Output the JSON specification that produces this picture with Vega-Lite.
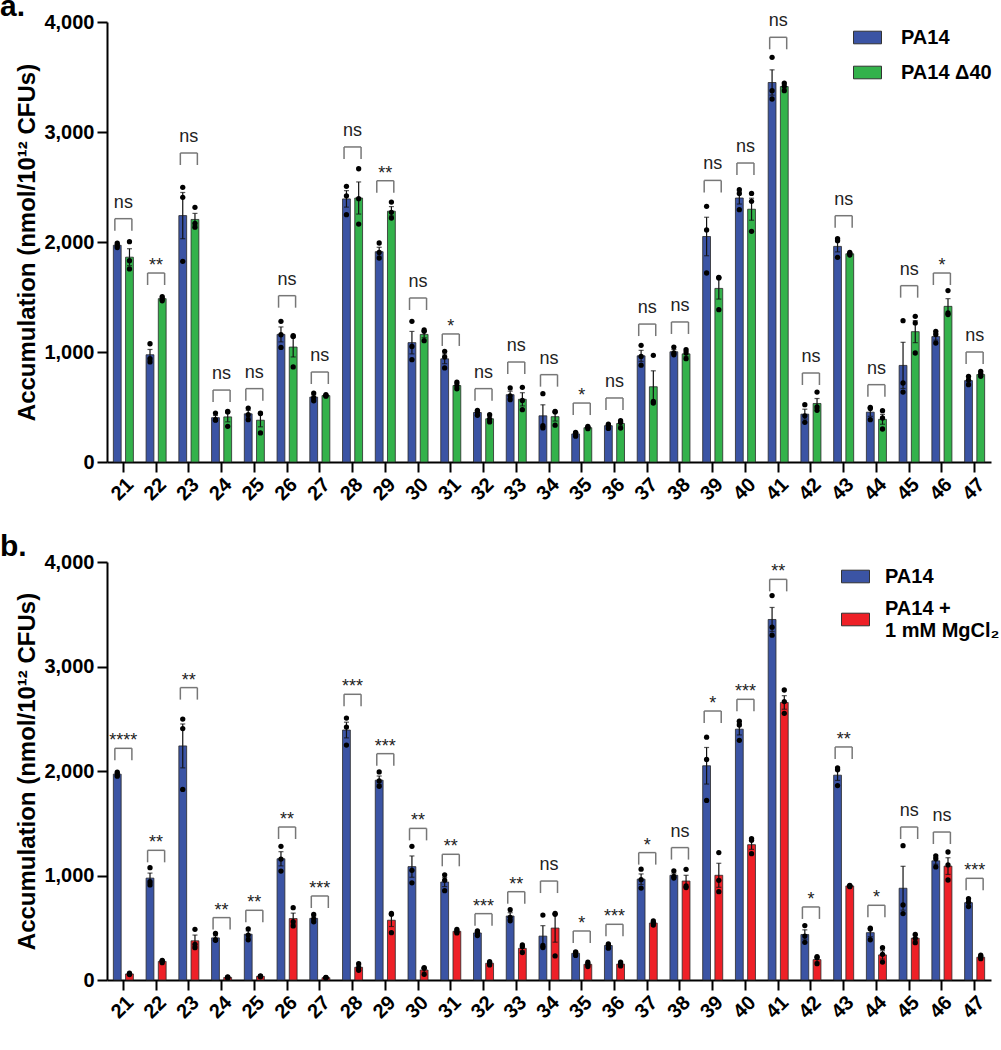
{
  "$schema": "https://vega.github.io/schema/vega-lite/v6.json",
  "padding": {"left": 0, "top": -8, "right": 0, "bottom": 0},
  "background": "white",
  "spacing": 28,
  "resolve": {"scale": {"color": "independent", "xOffset": "independent"}, "legend": {"color": "independent"}},
  "config": {
    "font": "Liberation Sans",
    "view": {"stroke": null},
    "axis": {"domainColor": "#000", "domainWidth": 2, "tickColor": "#000", "tickWidth": 2, "tickSize": 10, "labelFontSize": 20, "labelFontWeight": "bold", "labelColor": "#000", "titleFontSize": 24, "titleFontWeight": "bold", "titleColor": "#000", "grid": false},
    "title": {"fontSize": 30, "fontWeight": "bold", "color": "#000", "anchor": "start", "frame": "group", "dx": -107, "offset": -10}
  },
  "datasets": {
    "bars": [
      {"c":21,"g":"PA14","m":1970,"lo":1958,"hi":1982},{"c":22,"g":"PA14","m":975,"lo":927,"hi":1023},{"c":23,"g":"PA14","m":2240,"lo":2030,"hi":2450},{"c":24,"g":"PA14","m":403,"lo":383,"hi":423},{"c":25,"g":"PA14","m":438,"lo":406,"hi":470},{"c":26,"g":"PA14","m":1160,"lo":1092,"hi":1228},{"c":27,"g":"PA14","m":590,"lo":570,"hi":610},{"c":28,"g":"PA14","m":2392,"lo":2317,"hi":2467},{"c":29,"g":"PA14","m":1912,"lo":1872,"hi":1952},{"c":30,"g":"PA14","m":1085,"lo":983,"hi":1187},{"c":31,"g":"PA14","m":938,"lo":894,"hi":982},{"c":32,"g":"PA14","m":450,"lo":435,"hi":465},{"c":33,"g":"PA14","m":612,"lo":580,"hi":644},{"c":34,"g":"PA14","m":420,"lo":320,"hi":520},{"c":35,"g":"PA14","m":255,"lo":243,"hi":267},{"c":36,"g":"PA14","m":330,"lo":318,"hi":342},{"c":37,"g":"PA14","m":965,"lo":915,"hi":1015},{"c":38,"g":"PA14","m":1002,"lo":982,"hi":1022},{"c":39,"g":"PA14","m":2050,"lo":1875,"hi":2225},{"c":40,"g":"PA14","m":2400,"lo":2345,"hi":2455},{"c":41,"g":"PA14","m":3450,"lo":3335,"hi":3565},{"c":42,"g":"PA14","m":435,"lo":390,"hi":480},{"c":43,"g":"PA14","m":1960,"lo":1910,"hi":2010},{"c":44,"g":"PA14","m":453,"lo":415,"hi":491},{"c":45,"g":"PA14","m":878,"lo":668,"hi":1088},{"c":46,"g":"PA14","m":1140,"lo":1108,"hi":1172},{"c":47,"g":"PA14","m":740,"lo":718,"hi":762},
      {"c":21,"g":"D40","m":1862,"lo":1785,"hi":1939},{"c":22,"g":"D40","m":1485,"lo":1470,"hi":1500},{"c":23,"g":"D40","m":2205,"lo":2150,"hi":2260},{"c":24,"g":"D40","m":410,"lo":365,"hi":455},{"c":25,"g":"D40","m":380,"lo":320,"hi":440},{"c":26,"g":"D40","m":1045,"lo":955,"hi":1135},{"c":27,"g":"D40","m":604,"lo":600,"hi":608},{"c":28,"g":"D40","m":2400,"lo":2254,"hi":2546},{"c":29,"g":"D40","m":2280,"lo":2238,"hi":2322},{"c":30,"g":"D40","m":1160,"lo":1130,"hi":1190},{"c":31,"g":"D40","m":695,"lo":677,"hi":713},{"c":32,"g":"D40","m":393,"lo":375,"hi":411},{"c":33,"g":"D40","m":570,"lo":510,"hi":630},{"c":34,"g":"D40","m":412,"lo":372,"hi":452},{"c":35,"g":"D40","m":312,"lo":306,"hi":318},{"c":36,"g":"D40","m":350,"lo":330,"hi":370},{"c":37,"g":"D40","m":684,"lo":539,"hi":829},{"c":38,"g":"D40","m":983,"lo":959,"hi":1007},{"c":39,"g":"D40","m":1578,"lo":1481,"hi":1675},{"c":40,"g":"D40","m":2298,"lo":2198,"hi":2398},{"c":41,"g":"D40","m":3413,"lo":3393,"hi":3433},{"c":42,"g":"D40","m":532,"lo":487,"hi":577},{"c":43,"g":"D40","m":1893,"lo":1884,"hi":1902},{"c":44,"g":"D40","m":388,"lo":343,"hi":433},{"c":45,"g":"D40","m":1185,"lo":1085,"hi":1285},{"c":46,"g":"D40","m":1415,"lo":1345,"hi":1485},{"c":47,"g":"D40","m":795,"lo":782,"hi":808},
      {"c":21,"g":"Mg","m":58,"lo":54,"hi":62},{"c":22,"g":"Mg","m":178,"lo":171,"hi":185},{"c":23,"g":"Mg","m":375,"lo":320,"hi":430},{"c":24,"g":"Mg","m":25,"lo":22,"hi":28},{"c":25,"g":"Mg","m":35,"lo":32,"hi":38},{"c":26,"g":"Mg","m":588,"lo":536,"hi":640},{"c":27,"g":"Mg","m":22,"lo":20,"hi":24},{"c":28,"g":"Mg","m":122,"lo":103,"hi":141},{"c":29,"g":"Mg","m":572,"lo":512,"hi":632},{"c":30,"g":"Mg","m":95,"lo":75,"hi":115},{"c":31,"g":"Mg","m":466,"lo":456,"hi":476},{"c":32,"g":"Mg","m":160,"lo":151,"hi":169},{"c":33,"g":"Mg","m":303,"lo":281,"hi":325},{"c":34,"g":"Mg","m":497,"lo":362,"hi":632},{"c":35,"g":"Mg","m":150,"lo":138,"hi":162},{"c":36,"g":"Mg","m":152,"lo":142,"hi":162},{"c":37,"g":"Mg","m":545,"lo":535,"hi":555},{"c":38,"g":"Mg","m":947,"lo":892,"hi":1002},{"c":39,"g":"Mg","m":1002,"lo":887,"hi":1117},{"c":40,"g":"Mg","m":1295,"lo":1250,"hi":1340},{"c":41,"g":"Mg","m":2656,"lo":2591,"hi":2721},{"c":42,"g":"Mg","m":195,"lo":173,"hi":217},{"c":43,"g":"Mg","m":900,"lo":896,"hi":904},{"c":44,"g":"Mg","m":240,"lo":200,"hi":280},{"c":45,"g":"Mg","m":400,"lo":375,"hi":425},{"c":46,"g":"Mg","m":1090,"lo":1010,"hi":1170},{"c":47,"g":"Mg","m":218,"lo":208,"hi":228}
    ],
    "pts": [
      {"c":21,"g":"PA14","v":1990},{"c":21,"g":"PA14","v":1972},{"c":21,"g":"PA14","v":1950},
      {"c":22,"g":"PA14","v":1075},{"c":22,"g":"PA14","v":940},{"c":22,"g":"PA14","v":910},
      {"c":23,"g":"PA14","v":2497},{"c":23,"g":"PA14","v":2406},{"c":23,"g":"PA14","v":1824},
      {"c":24,"g":"PA14","v":445},{"c":24,"g":"PA14","v":385},{"c":24,"g":"PA14","v":380},
      {"c":25,"g":"PA14","v":490},{"c":25,"g":"PA14","v":430},{"c":25,"g":"PA14","v":385},
      {"c":26,"g":"PA14","v":1279},{"c":26,"g":"PA14","v":1157},{"c":26,"g":"PA14","v":1042},
      {"c":27,"g":"PA14","v":627},{"c":27,"g":"PA14","v":585},{"c":27,"g":"PA14","v":557},
      {"c":28,"g":"PA14","v":2506},{"c":28,"g":"PA14","v":2420},{"c":28,"g":"PA14","v":2248},
      {"c":29,"g":"PA14","v":1991},{"c":29,"g":"PA14","v":1905},{"c":29,"g":"PA14","v":1854},
      {"c":30,"g":"PA14","v":1279},{"c":30,"g":"PA14","v":1050},{"c":30,"g":"PA14","v":930},
      {"c":31,"g":"PA14","v":1006},{"c":31,"g":"PA14","v":955},{"c":31,"g":"PA14","v":855},
      {"c":32,"g":"PA14","v":470},{"c":32,"g":"PA14","v":455},{"c":32,"g":"PA14","v":425},
      {"c":33,"g":"PA14","v":673},{"c":33,"g":"PA14","v":600},{"c":33,"g":"PA14","v":567},
      {"c":34,"g":"PA14","v":621},{"c":34,"g":"PA14","v":330},{"c":34,"g":"PA14","v":310},
      {"c":35,"g":"PA14","v":270},{"c":35,"g":"PA14","v":262},{"c":35,"g":"PA14","v":235},
      {"c":36,"g":"PA14","v":345},{"c":36,"g":"PA14","v":335},{"c":36,"g":"PA14","v":305},
      {"c":37,"g":"PA14","v":1061},{"c":37,"g":"PA14","v":960},{"c":37,"g":"PA14","v":880},
      {"c":38,"g":"PA14","v":1045},{"c":38,"g":"PA14","v":991},{"c":38,"g":"PA14","v":975},
      {"c":39,"g":"PA14","v":2324},{"c":39,"g":"PA14","v":2110},{"c":39,"g":"PA14","v":1718},
      {"c":40,"g":"PA14","v":2476},{"c":40,"g":"PA14","v":2440},{"c":40,"g":"PA14","v":2294},
      {"c":41,"g":"PA14","v":3679},{"c":41,"g":"PA14","v":3376},{"c":41,"g":"PA14","v":3300},
      {"c":42,"g":"PA14","v":521},{"c":42,"g":"PA14","v":420},{"c":42,"g":"PA14","v":361},
      {"c":43,"g":"PA14","v":2030},{"c":43,"g":"PA14","v":2012},{"c":43,"g":"PA14","v":1861},
      {"c":44,"g":"PA14","v":497},{"c":44,"g":"PA14","v":487},{"c":44,"g":"PA14","v":385},
      {"c":45,"g":"PA14","v":1285},{"c":45,"g":"PA14","v":718},{"c":45,"g":"PA14","v":636},
      {"c":46,"g":"PA14","v":1188},{"c":46,"g":"PA14","v":1160},{"c":46,"g":"PA14","v":1082},
      {"c":47,"g":"PA14","v":779},{"c":47,"g":"PA14","v":745},{"c":47,"g":"PA14","v":703},
      {"c":21,"g":"D40","v":2003},{"c":21,"g":"D40","v":1830},{"c":21,"g":"D40","v":1755},
      {"c":22,"g":"D40","v":1503},{"c":22,"g":"D40","v":1482},{"c":22,"g":"D40","v":1465},
      {"c":23,"g":"D40","v":2315},{"c":23,"g":"D40","v":2170},{"c":23,"g":"D40","v":2135},
      {"c":24,"g":"D40","v":460},{"c":24,"g":"D40","v":455},{"c":24,"g":"D40","v":324},
      {"c":25,"g":"D40","v":445},{"c":25,"g":"D40","v":440},{"c":25,"g":"D40","v":264},
      {"c":26,"g":"D40","v":1148},{"c":26,"g":"D40","v":1142},{"c":26,"g":"D40","v":864},
      {"c":27,"g":"D40","v":612},{"c":27,"g":"D40","v":604},{"c":27,"g":"D40","v":598},
      {"c":28,"g":"D40","v":2666},{"c":28,"g":"D40","v":2394},{"c":28,"g":"D40","v":2163},
      {"c":29,"g":"D40","v":2363},{"c":29,"g":"D40","v":2270},{"c":29,"g":"D40","v":2218},
      {"c":30,"g":"D40","v":1200},{"c":30,"g":"D40","v":1188},{"c":30,"g":"D40","v":1103},
      {"c":31,"g":"D40","v":725},{"c":31,"g":"D40","v":695},{"c":31,"g":"D40","v":665},
      {"c":32,"g":"D40","v":430},{"c":32,"g":"D40","v":390},{"c":32,"g":"D40","v":364},
      {"c":33,"g":"D40","v":679},{"c":33,"g":"D40","v":560},{"c":33,"g":"D40","v":476},
      {"c":34,"g":"D40","v":460},{"c":34,"g":"D40","v":455},{"c":34,"g":"D40","v":335},
      {"c":35,"g":"D40","v":324},{"c":35,"g":"D40","v":315},{"c":35,"g":"D40","v":303},
      {"c":36,"g":"D40","v":376},{"c":36,"g":"D40","v":360},{"c":36,"g":"D40","v":309},
      {"c":37,"g":"D40","v":970},{"c":37,"g":"D40","v":552},{"c":37,"g":"D40","v":536},
      {"c":38,"g":"D40","v":1021},{"c":38,"g":"D40","v":991},{"c":38,"g":"D40","v":939},
      {"c":39,"g":"D40","v":1679},{"c":39,"g":"D40","v":1673},{"c":39,"g":"D40","v":1385},
      {"c":40,"g":"D40","v":2442},{"c":40,"g":"D40","v":2370},{"c":40,"g":"D40","v":2097},
      {"c":41,"g":"D40","v":3445},{"c":41,"g":"D40","v":3415},{"c":41,"g":"D40","v":3376},
      {"c":42,"g":"D40","v":636},{"c":42,"g":"D40","v":500},{"c":42,"g":"D40","v":470},
      {"c":43,"g":"D40","v":1905},{"c":43,"g":"D40","v":1893},{"c":43,"g":"D40","v":1882},
      {"c":44,"g":"D40","v":467},{"c":44,"g":"D40","v":400},{"c":44,"g":"D40","v":300},
      {"c":45,"g":"D40","v":1324},{"c":45,"g":"D40","v":1264},{"c":45,"g":"D40","v":991},
      {"c":46,"g":"D40","v":1558},{"c":46,"g":"D40","v":1355},{"c":46,"g":"D40","v":1340},
      {"c":47,"g":"D40","v":824},{"c":47,"g":"D40","v":800},{"c":47,"g":"D40","v":779},
      {"c":21,"g":"Mg","v":65},{"c":21,"g":"Mg","v":58},{"c":21,"g":"Mg","v":52},
      {"c":22,"g":"Mg","v":188},{"c":22,"g":"Mg","v":182},{"c":22,"g":"Mg","v":166},
      {"c":23,"g":"Mg","v":485},{"c":23,"g":"Mg","v":341},{"c":23,"g":"Mg","v":309},
      {"c":24,"g":"Mg","v":30},{"c":24,"g":"Mg","v":25},{"c":24,"g":"Mg","v":20},
      {"c":25,"g":"Mg","v":40},{"c":25,"g":"Mg","v":35},{"c":25,"g":"Mg","v":30},
      {"c":26,"g":"Mg","v":692},{"c":26,"g":"Mg","v":558},{"c":26,"g":"Mg","v":517},
      {"c":27,"g":"Mg","v":25},{"c":27,"g":"Mg","v":22},{"c":27,"g":"Mg","v":18},
      {"c":28,"g":"Mg","v":156},{"c":28,"g":"Mg","v":118},{"c":28,"g":"Mg","v":93},
      {"c":29,"g":"Mg","v":638},{"c":29,"g":"Mg","v":628},{"c":29,"g":"Mg","v":453},
      {"c":30,"g":"Mg","v":118},{"c":30,"g":"Mg","v":112},{"c":30,"g":"Mg","v":54},
      {"c":31,"g":"Mg","v":485},{"c":31,"g":"Mg","v":463},{"c":31,"g":"Mg","v":450},
      {"c":32,"g":"Mg","v":175},{"c":32,"g":"Mg","v":163},{"c":32,"g":"Mg","v":144},
      {"c":33,"g":"Mg","v":335},{"c":33,"g":"Mg","v":319},{"c":33,"g":"Mg","v":262},
      {"c":34,"g":"Mg","v":638},{"c":34,"g":"Mg","v":628},{"c":34,"g":"Mg","v":230},
      {"c":35,"g":"Mg","v":170},{"c":35,"g":"Mg","v":150},{"c":35,"g":"Mg","v":128},
      {"c":36,"g":"Mg","v":172},{"c":36,"g":"Mg","v":155},{"c":36,"g":"Mg","v":135},
      {"c":37,"g":"Mg","v":565},{"c":37,"g":"Mg","v":549},{"c":37,"g":"Mg","v":526},
      {"c":38,"g":"Mg","v":1059},{"c":38,"g":"Mg","v":900},{"c":38,"g":"Mg","v":884},
      {"c":39,"g":"Mg","v":1219},{"c":39,"g":"Mg","v":954},{"c":39,"g":"Mg","v":845},
      {"c":40,"g":"Mg","v":1353},{"c":40,"g":"Mg","v":1337},{"c":40,"g":"Mg","v":1209},
      {"c":41,"g":"Mg","v":2775},{"c":41,"g":"Mg","v":2664},{"c":41,"g":"Mg","v":2552},
      {"c":42,"g":"Mg","v":223},{"c":42,"g":"Mg","v":214},{"c":42,"g":"Mg","v":156},
      {"c":43,"g":"Mg","v":906},{"c":43,"g":"Mg","v":900},{"c":43,"g":"Mg","v":893},
      {"c":44,"g":"Mg","v":309},{"c":44,"g":"Mg","v":246},{"c":44,"g":"Mg","v":172},
      {"c":45,"g":"Mg","v":437},{"c":45,"g":"Mg","v":399},{"c":45,"g":"Mg","v":357},
      {"c":46,"g":"Mg","v":1225},{"c":46,"g":"Mg","v":1101},{"c":46,"g":"Mg","v":957},
      {"c":47,"g":"Mg","v":239},{"c":47,"g":"Mg","v":226},{"c":47,"g":"Mg","v":204}
    ],
    "brA": [
      {"c":21,"t":2212,"s":"ns"},{"c":22,"t":1718,"s":"**"},{"c":23,"t":2809,"s":"ns"},{"c":24,"t":654,"s":"ns"},{"c":25,"t":667,"s":"ns"},{"c":26,"t":1512,"s":"ns"},{"c":27,"t":818,"s":"ns"},{"c":28,"t":2864,"s":"ns"},{"c":29,"t":2557,"s":"**"},{"c":30,"t":1491,"s":"ns"},{"c":31,"t":1164,"s":"*"},{"c":32,"t":667,"s":"ns"},{"c":33,"t":909,"s":"ns"},{"c":34,"t":794,"s":"ns"},{"c":35,"t":536,"s":"*"},{"c":36,"t":582,"s":"ns"},{"c":37,"t":1254,"s":"ns"},{"c":38,"t":1273,"s":"ns"},{"c":39,"t":2560,"s":"ns"},{"c":40,"t":2718,"s":"ns"},{"c":41,"t":3861,"s":"ns"},{"c":42,"t":809,"s":"ns"},{"c":43,"t":2239,"s":"ns"},{"c":44,"t":703,"s":"ns"},{"c":45,"t":1603,"s":"ns"},{"c":46,"t":1718,"s":"*"},{"c":47,"t":1000,"s":"ns"}
    ],
    "brB": [
      {"c":21,"t":2217,"s":"****"},{"c":22,"t":1241,"s":"**"},{"c":23,"t":2798,"s":"**"},{"c":24,"t":597,"s":"**"},{"c":25,"t":667,"s":"**"},{"c":26,"t":1464,"s":"**"},{"c":27,"t":804,"s":"***"},{"c":28,"t":2734,"s":"***"},{"c":29,"t":2166,"s":"***"},{"c":30,"t":1451,"s":"**"},{"c":31,"t":1203,"s":"**"},{"c":32,"t":635,"s":"***"},{"c":33,"t":845,"s":"**"},{"c":34,"t":947,"s":"ns"},{"c":35,"t":469,"s":"*"},{"c":36,"t":533,"s":"***"},{"c":37,"t":1219,"s":"*"},{"c":38,"t":1267,"s":"ns"},{"c":39,"t":2574,"s":"*"},{"c":40,"t":2686,"s":"***"},{"c":41,"t":3834,"s":"**"},{"c":42,"t":699,"s":"*"},{"c":43,"t":2230,"s":"**"},{"c":44,"t":715,"s":"*"},{"c":45,"t":1464,"s":"ns"},{"c":46,"t":1416,"s":"ns"},{"c":47,"t":973,"s":"***"}
    ]
  },
  "vconcat": [
    {
      "title": {"text": "a."},
      "width": 884,
      "height": 440,
      "encoding": {"x": {"field": "c", "type": "ordinal", "scale": {"paddingInner": 0, "paddingOuter": 0}, "axis": {"title": null, "labelAngle": -45, "labelPadding": 2}}},
      "layer": [
        {
          "data": {"name": "bars"},
          "transform": [{"filter": "datum.g != 'Mg'"}],
          "encoding": {"xOffset": {"field": "g", "type": "nominal", "scale": {"domain": ["PA14", "D40"], "paddingInner": 0.36, "paddingOuter": 0.52}}},
          "layer": [
            {"mark": {"type": "bar", "stroke": "#2a2a2a", "strokeWidth": 0.8},
             "encoding": {
               "y": {"field": "m", "type": "quantitative", "scale": {"domain": [0, 4000], "nice": false}, "axis": {"title": "Accumulation (nmol/10¹² CFUs)", "values": [0, 1000, 2000, 3000, 4000], "format": ",d", "labelPadding": 3, "titlePadding": 4}},
               "color": {"field": "g", "type": "nominal", "scale": {"domain": ["PA14", "D40"], "range": ["#3B54A4", "#33B24B"]},
                 "legend": {"orient": "none", "legendX": 746, "legendY": 1, "title": null, "symbolType": "M-1,-0.45H1V0.45H-1Z", "symbolSize": 784, "symbolStrokeColor": "#333", "symbolStrokeWidth": 1, "symbolOpacity": 1, "labelFontSize": 20, "labelFontWeight": "bold", "labelColor": "#000", "labelOffset": 19, "rowPadding": 10, "labelExpr": "datum.label == 'D40' ? 'PA14 Δ40' : datum.label"}}
             }},
            {"mark": {"type": "rule", "color": "#111", "strokeWidth": 1.2},
             "encoding": {"y": {"field": "lo", "type": "quantitative"}, "y2": {"field": "hi"}}},
            {"mark": {"type": "tick", "color": "#111", "thickness": 1.2, "size": 5, "orient": "horizontal"},
             "encoding": {"y": {"field": "hi", "type": "quantitative"}}},
            {"mark": {"type": "tick", "color": "#111", "thickness": 1.2, "size": 5, "orient": "horizontal"},
             "encoding": {"y": {"field": "lo", "type": "quantitative"}}}
          ]
        },
        {
          "data": {"name": "pts"},
          "transform": [{"filter": "datum.g != 'Mg'"}],
          "mark": {"type": "circle", "color": "#000", "size": 28, "opacity": 1},
          "encoding": {
            "xOffset": {"field": "g", "type": "nominal", "scale": {"domain": ["PA14", "D40"], "paddingInner": 0.36, "paddingOuter": 0.52}},
            "y": {"field": "v", "type": "quantitative"}
          }
        },
        {
          "data": {"name": "brA"},
          "layer": [
            {"mark": {"type": "rule", "color": "#777", "strokeWidth": 1.5, "y2Offset": 12},
             "encoding": {"x": {"field": "c", "type": "ordinal", "bandPosition": 0.24}, "y": {"field": "t", "type": "quantitative"}, "y2": {"field": "t"}}},
            {"mark": {"type": "rule", "color": "#777", "strokeWidth": 1.5, "y2Offset": 12},
             "encoding": {"x": {"field": "c", "type": "ordinal", "bandPosition": 0.76}, "y": {"field": "t", "type": "quantitative"}, "y2": {"field": "t"}}},
            {"mark": {"type": "rule", "color": "#777", "strokeWidth": 1.5},
             "encoding": {"x": {"field": "c", "type": "ordinal", "bandPosition": 0.24}, "x2": {"field": "c", "bandPosition": 0.76}, "y": {"field": "t", "type": "quantitative"}}},
            {"transform": [{"filter": "datum.s == 'ns'"}],
             "mark": {"type": "text", "fontSize": 18, "dy": -16, "baseline": "middle", "color": "#222"},
             "encoding": {"y": {"field": "t", "type": "quantitative"}, "text": {"field": "s"}}},
            {"transform": [{"filter": "datum.s != 'ns'"}],
             "mark": {"type": "text", "fontSize": 18, "dy": -7, "baseline": "middle", "color": "#222"},
             "encoding": {"y": {"field": "t", "type": "quantitative"}, "text": {"field": "s"}}}
          ]
        }
      ]
    },
    {
      "title": {"text": "b."},
      "width": 884,
      "height": 418,
      "encoding": {"x": {"field": "c", "type": "ordinal", "scale": {"paddingInner": 0, "paddingOuter": 0}, "axis": {"title": null, "labelAngle": -45, "labelPadding": 2}}},
      "layer": [
        {
          "data": {"name": "bars"},
          "transform": [{"filter": "datum.g != 'D40'"}],
          "encoding": {"xOffset": {"field": "g", "type": "nominal", "scale": {"domain": ["PA14", "Mg"], "paddingInner": 0.36, "paddingOuter": 0.52}}},
          "layer": [
            {"mark": {"type": "bar", "stroke": "#2a2a2a", "strokeWidth": 0.8},
             "encoding": {
               "y": {"field": "m", "type": "quantitative", "scale": {"domain": [0, 4000], "nice": false}, "axis": {"title": "Accumulation (nmol/10¹² CFUs)", "values": [0, 1000, 2000, 3000, 4000], "format": ",d", "labelPadding": 3, "titlePadding": 4}},
               "color": {"field": "g", "type": "nominal", "scale": {"domain": ["PA14", "Mg"], "range": ["#3B54A4", "#EE2027"]},
                 "legend": {"orient": "none", "legendX": 734, "legendY": 0, "title": null, "symbolType": "M-1,-0.45H1V0.45H-1Z", "symbolSize": 784, "symbolStrokeColor": "#333", "symbolStrokeWidth": 1, "symbolOpacity": 1, "labelFontSize": 20, "labelFontWeight": "bold", "labelColor": "#000", "labelOffset": 15, "rowPadding": 11, "labelExpr": "datum.label == 'Mg' ? ['PA14 +', '1 mM MgCl₂'] : datum.label",
                   "encode": {"labels": {"update": {"dy": {"signal": "datum.value == 'Mg' ? -11 : 0"}}}}}}
             }},
            {"mark": {"type": "rule", "color": "#111", "strokeWidth": 1.2},
             "encoding": {"y": {"field": "lo", "type": "quantitative"}, "y2": {"field": "hi"}}},
            {"mark": {"type": "tick", "color": "#111", "thickness": 1.2, "size": 5, "orient": "horizontal"},
             "encoding": {"y": {"field": "hi", "type": "quantitative"}}},
            {"mark": {"type": "tick", "color": "#111", "thickness": 1.2, "size": 5, "orient": "horizontal"},
             "encoding": {"y": {"field": "lo", "type": "quantitative"}}}
          ]
        },
        {
          "data": {"name": "pts"},
          "transform": [{"filter": "datum.g != 'D40'"}],
          "mark": {"type": "circle", "color": "#000", "size": 28, "opacity": 1},
          "encoding": {
            "xOffset": {"field": "g", "type": "nominal", "scale": {"domain": ["PA14", "Mg"], "paddingInner": 0.36, "paddingOuter": 0.52}},
            "y": {"field": "v", "type": "quantitative"}
          }
        },
        {
          "data": {"name": "brB"},
          "layer": [
            {"mark": {"type": "rule", "color": "#777", "strokeWidth": 1.5, "y2Offset": 12},
             "encoding": {"x": {"field": "c", "type": "ordinal", "bandPosition": 0.24}, "y": {"field": "t", "type": "quantitative"}, "y2": {"field": "t"}}},
            {"mark": {"type": "rule", "color": "#777", "strokeWidth": 1.5, "y2Offset": 12},
             "encoding": {"x": {"field": "c", "type": "ordinal", "bandPosition": 0.76}, "y": {"field": "t", "type": "quantitative"}, "y2": {"field": "t"}}},
            {"mark": {"type": "rule", "color": "#777", "strokeWidth": 1.5},
             "encoding": {"x": {"field": "c", "type": "ordinal", "bandPosition": 0.24}, "x2": {"field": "c", "bandPosition": 0.76}, "y": {"field": "t", "type": "quantitative"}}},
            {"transform": [{"filter": "datum.s == 'ns'"}],
             "mark": {"type": "text", "fontSize": 18, "dy": -16, "baseline": "middle", "color": "#222"},
             "encoding": {"y": {"field": "t", "type": "quantitative"}, "text": {"field": "s"}}},
            {"transform": [{"filter": "datum.s != 'ns'"}],
             "mark": {"type": "text", "fontSize": 18, "dy": -7, "baseline": "middle", "color": "#222"},
             "encoding": {"y": {"field": "t", "type": "quantitative"}, "text": {"field": "s"}}}
          ]
        }
      ]
    }
  ]
}
